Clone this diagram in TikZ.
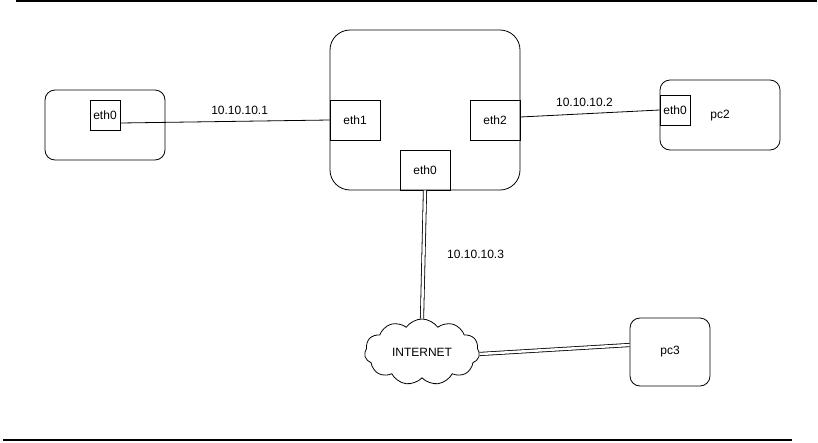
\documentclass[tikz,border=0pt]{standalone}
\usepackage{fontspec}
\setmainfont{Liberation Sans}
\usetikzlibrary{shapes.symbols}
\begin{document}
\begin{tikzpicture}[x=1pt,y=-1pt,font=\fontsize{12}{14}\selectfont,
    host/.style={draw,rounded corners=10pt,line width=0.8pt},
    port/.style={draw,line width=0.8pt,minimum width=50pt,minimum height=40pt,inner sep=0pt},
    smallport/.style={draw,line width=0.8pt,minimum width=30pt,minimum height=30pt,inner sep=0pt},
    link/.style={line width=0.8pt},
    dlink/.style={double,double distance=2.5pt,line width=0.8pt}]
  \useasboundingbox (0,0) rectangle (818,442);
  % page rules
  \draw[line width=1.2pt] (16,1) -- (817,1);
  \draw[line width=1.2pt] (3,440) -- (792,440);
  % hosts
  \draw[host] (45,90) rectangle (165,160);
  \draw[host,rounded corners=20pt] (330,30) rectangle (520,190);
  \draw[host] (660,80) rectangle (780,150);
  \draw
    (105,115) node[smallport] (pc1eth0){eth0}
    (355,120) node[port] (eth1){eth1}
    (495,120) node[port] (eth2){eth2}
    (425,170) node[port] (eth0){eth0}
    (675,110) node[smallport] (pc2eth0){eth0}
    (720,116) node (pc2){pc2}
    (422,352) node[cloud,draw,line width=0.8pt,cloud puffs=11,cloud puff arc=110,
      aspect=1.8,minimum width=115pt,minimum height=66pt,inner sep=0pt] (inet){INTERNET}
    (670,352) node[draw,line width=0.8pt,rounded corners=10pt,minimum width=80pt,
      minimum height=68pt] (pc3){pc3};
  \begin{scope}[link]
    \draw (pc1eth0.east |- 0,123) to node[pos=0.57,above=3pt] {10.10.10.1} (eth1.west |- 0,120);
    \draw (eth2.east |- 0,117) to node[pos=0.46,above=3pt] {10.10.10.2} (pc2eth0.west);
  \end{scope}
  \draw[dlink] (eth0.south) to node[right=20pt] {10.10.10.3} (inet.north);
  \draw[dlink] (inet.east |- 0,354) to (pc3.west |- 0,345);
\end{tikzpicture}
\end{document}
